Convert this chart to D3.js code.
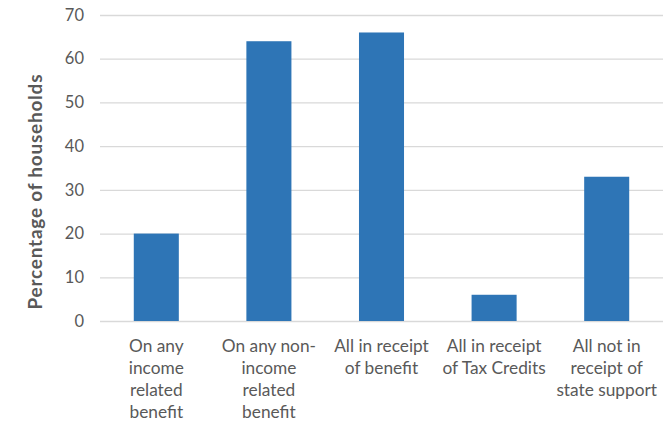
<!DOCTYPE html>
<html><head><meta charset="utf-8">
<script src="https://cdn.jsdelivr.net/npm/d3@7"></script>
<style>body{margin:0;background:#fff;} svg{display:block;}</style>
</head><body>
<svg id="chart" width="669" height="421"></svg>
<script>
const categories = [
  ["On any", "income", "related", "benefit"],
  ["On any non-", "income", "related", "benefit"],
  ["All in receipt", "of benefit"],
  ["All in receipt", "of Tax Credits"],
  ["All not in", "receipt of", "state support"]
];
const values = [20, 64, 66, 6, 33];
const yTicks = [0, 10, 20, 30, 40, 50, 60, 70];
const yTitle = "Percentage of households";

const svg = d3.select("#chart");
const plotLeft = 100, plotRight = 663, plotTop = 15, plotBottom = 321;
const font = "Lato, 'Open Sans', sans-serif";
const textCol = "#595959";

const x = d3.scaleBand().domain(d3.range(values.length)).range([plotLeft, plotRight]).paddingInner(0.6).paddingOuter(0.3);
const y = d3.scaleLinear().domain([0, 70]).range([plotBottom, plotTop]);

// gridlines
svg.append("g").selectAll("line").data(yTicks).join("line")
  .attr("x1", plotLeft).attr("x2", plotRight)
  .attr("y1", d => y(d) + 0.5).attr("y2", d => y(d) + 0.5)
  .attr("stroke", "#d9d9d9").attr("stroke-width", 1.3);

// y tick labels
svg.append("g").selectAll("text").data(yTicks).join("text")
  .attr("x", 84).attr("y", d => y(d)).attr("dy", "0.35em")
  .attr("text-anchor", "end").attr("fill", textCol)
  .style("font-family", font).style("font-size", "16.5px")
  .text(d => d);

// bars
svg.append("g").selectAll("rect").data(values).join("rect")
  .attr("x", (d, i) => x(i)).attr("width", x.bandwidth())
  .attr("y", d => y(d)).attr("height", d => y(0) - y(d))
  .attr("fill", "#2e75b6");

// category labels
const cg = svg.append("g");
categories.forEach((lines, i) => {
  const t = cg.append("text")
    .attr("x", x(i) + x.bandwidth() / 2).attr("y", 352)
    .attr("text-anchor", "middle").attr("fill", textCol)
    .style("font-family", font).style("font-size", "17.3px");
  lines.forEach((l, j) => {
    t.append("tspan").attr("x", x(i) + x.bandwidth() / 2).attr("y", 352 + j * 22).text(l);
  });
});

// y title
svg.append("text")
  .attr("transform", "translate(42,192) rotate(-90)")
  .attr("text-anchor", "middle").attr("fill", textCol)
  .attr("textLength", 235).attr("lengthAdjust", "spacing")
  .style("font-family", font).style("font-size", "19px").style("font-weight", "bold")
  .text(yTitle);
</script>
</body></html>
